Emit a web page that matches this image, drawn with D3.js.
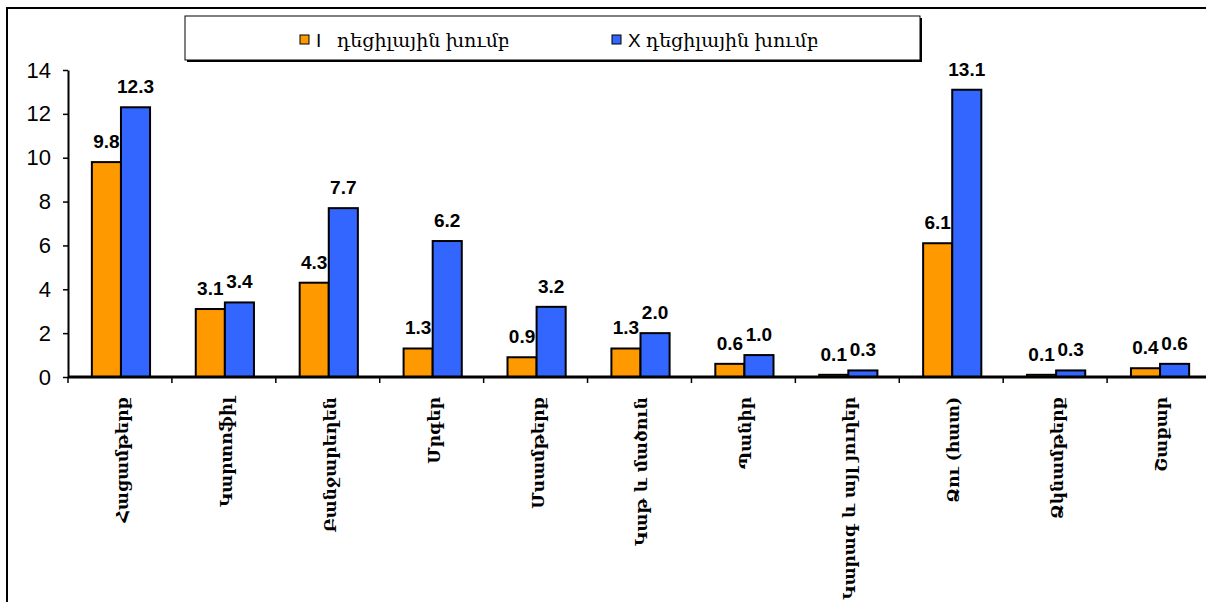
<!DOCTYPE html>
<html>
<head>
<meta charset="utf-8">
<script src="https://cdn.jsdelivr.net/npm/d3@7"></script>
<style>
  html, body { margin: 0; padding: 0; background: #fff; }
  svg { display: block; }
</style>
</head>
<body>
<div id="chart"></div>
<script>
// food consumption by decile group
const categories = [
  "Հացամթերք", "Կարտոֆիլ", "Բանջարեղեն", "Մրգեր", "Մսամթերք",
  "Կաթ և մածուն", "Պանիր", "Կարագ և այլ յուղեր", "Ձու  (հատ)",
  "Ձկնամթերք", "Շաքար"
];
const decile1 = [9.8, 3.1, 4.3, 1.3, 0.9, 1.3, 0.6, 0.1, 6.1, 0.1, 0.4];
const decile10 = [12.3, 3.4, 7.7, 6.2, 3.2, 2.0, 1.0, 0.3, 13.1, 0.3, 0.6];
const seriesNames = ["I   դեցիլային խումբ", "X դեցիլային խումբ"];
const yTicks = [0, 2, 4, 6, 8, 10, 12, 14];

const colors = ["#ff9900", "#3366ff"];
const width = 1206, height = 602;
const armFont = "'DejaVu Serif', serif";
const numFont = "'Liberation Sans', Arial, sans-serif";

const svg = d3.select("#chart").append("svg")
    .attr("width", width)
    .attr("height", height);

// outer chart frame (right/bottom edges fall outside the picture)
svg.append("rect")
    .attr("x", 7).attr("y", 8)
    .attr("width", 1260).attr("height", 700)
    .attr("fill", "none")
    .attr("stroke", "#000")
    .attr("stroke-width", 2);

const x = d3.scaleBand()
    .domain(categories)
    .range([68, 1211])
    .paddingInner(0.44)
    .paddingOuter(0.22);

const xSub = d3.scaleBand()
    .domain([0, 1])
    .range([0, x.bandwidth()]);

const y = d3.scaleLinear()
    .domain([0, 14])
    .range([377, 70]);

const rows = categories.map((c, i) => ({ cat: c, vals: [decile1[i], decile10[i]] }));

// bars
const groups = svg.append("g")
    .selectAll("g")
    .data(rows)
    .join("g")
    .attr("transform", d => `translate(${x(d.cat) + 1},0)`);

groups.selectAll("rect")
    .data(d => d.vals.map((v, k) => ({ v, k })))
    .join("rect")
    .attr("x", d => xSub(d.k))
    .attr("y", d => y(d.v))
    .attr("width", xSub.bandwidth())
    .attr("height", d => y(0) - y(d.v))
    .attr("fill", d => colors[d.k])
    .attr("stroke", "#000")
    .attr("stroke-width", 2);

// value labels
groups.selectAll("text")
    .data(d => d.vals.map((v, k) => ({ v, k })))
    .join("text")
    .attr("x", d => xSub(d.k) + xSub.bandwidth() / 2)
    .attr("y", d => y(d.v) - 14)
    .attr("text-anchor", "middle")
    .attr("font-family", numFont)
    .attr("font-weight", "bold")
    .attr("font-size", 19)
    .text(d => d.v.toFixed(1));

// y axis
const yAxis = svg.append("g")
    .attr("transform", "translate(68,0)")
    .call(d3.axisLeft(y).tickValues(yTicks).tickSize(5).tickSizeOuter(0).tickPadding(12));
yAxis.select(".domain").attr("stroke-width", 2);
yAxis.selectAll(".tick line").attr("stroke-width", 1.5);
yAxis.selectAll(".tick text")
    .attr("font-family", numFont)
    .attr("font-size", 22)
    .attr("fill", "#000");

// x axis: ticks at category boundaries
const xAxis = svg.append("g");
xAxis.append("line")
    .attr("x1", 68).attr("x2", width)
    .attr("y1", y(0)).attr("y2", y(0))
    .attr("stroke", "#000")
    .attr("stroke-width", 3);
xAxis.selectAll(".sep")
    .data(categories)
    .join("line")
    .attr("class", "sep")
    .attr("x1", d => x(d) - x.step() * x.paddingOuter())
    .attr("x2", d => x(d) - x.step() * x.paddingOuter())
    .attr("y1", y(0)).attr("y2", y(0) + 6)
    .attr("stroke", "#000")
    .attr("stroke-width", 1.5);

xAxis.selectAll(".lbl")
    .data(categories)
    .join("text")
    .attr("class", "lbl")
    .attr("transform", d => `translate(${x(d) + x.bandwidth() / 2 + 2},397) rotate(-90)`)
    .attr("dy", "0.35em")
    .attr("text-anchor", "end")
    .attr("font-family", armFont)
    .attr("font-weight", "bold")
    .attr("font-size", 17)
    .text(d => d);

// legend
const legend = svg.append("g");
legend.append("rect")
    .attr("x", 187).attr("y", 18)
    .attr("width", 735).attr("height", 44)
    .attr("fill", "#000");
legend.append("rect")
    .attr("x", 185).attr("y", 16)
    .attr("width", 735).attr("height", 44)
    .attr("fill", "#fff")
    .attr("stroke", "#000")
    .attr("stroke-width", 1);

const legendX = [300, 612];
const items = legend.selectAll(".item")
    .data(seriesNames)
    .join("g")
    .attr("class", "item")
    .attr("transform", (d, i) => `translate(${legendX[i]},0)`);
items.append("rect")
    .attr("x", 0).attr("y", 35)
    .attr("width", 9).attr("height", 9)
    .attr("fill", (d, i) => colors[i])
    .attr("stroke", "#000")
    .attr("stroke-width", 1);
items.append("text")
    .attr("x", 16).attr("y", 47)
    .attr("font-family", "'Liberation Sans', " + armFont)
    .attr("font-size", 19)
    .attr("xml:space", "preserve")
    .style("white-space", "pre")
    .text(d => d);
</script>
</body>
</html>
